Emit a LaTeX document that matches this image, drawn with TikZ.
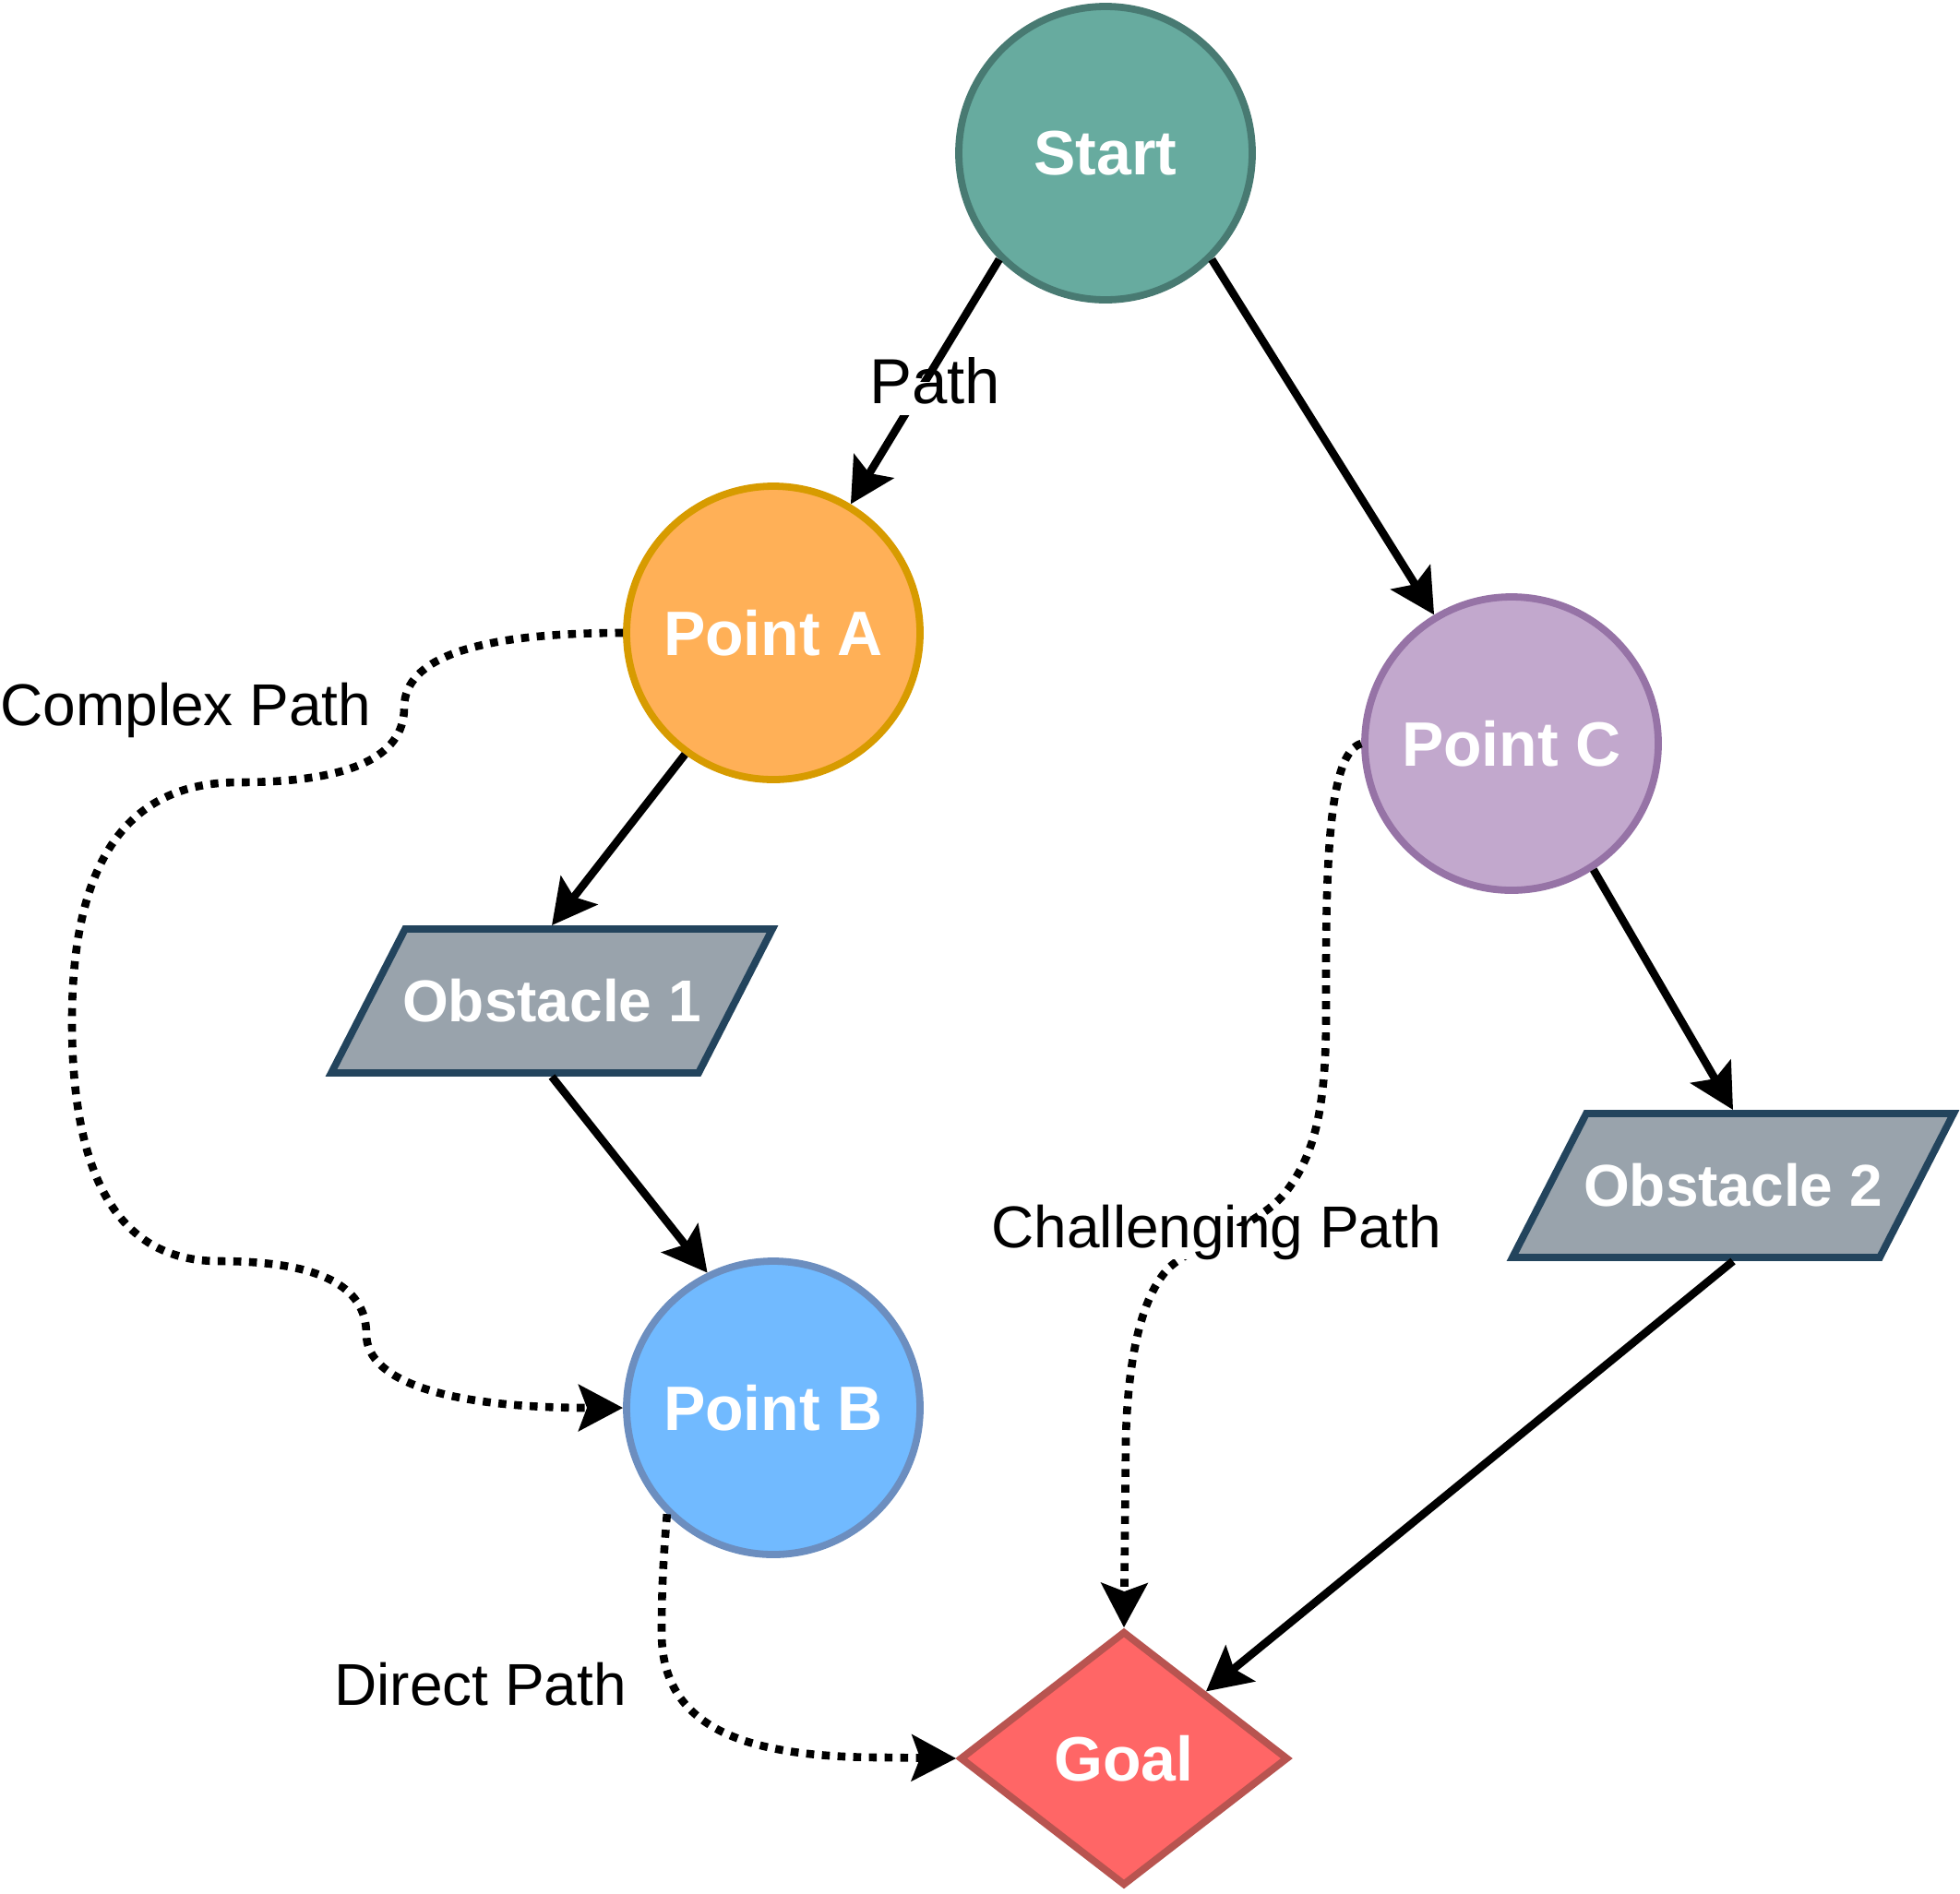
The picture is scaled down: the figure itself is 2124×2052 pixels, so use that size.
\documentclass[tikz,border=0pt]{standalone}
\usepackage{fontspec}
\setmainfont{Liberation Sans}
\usetikzlibrary{arrows.meta,shapes.geometric}

\definecolor{startfill}{HTML}{67AB9F}
\definecolor{startline}{HTML}{487A72}
\definecolor{afill}{HTML}{FFB057}
\definecolor{aline}{HTML}{D79B00}
\definecolor{bfill}{HTML}{71BAFF}
\definecolor{bline}{HTML}{6C8EBF}
\definecolor{cfill}{HTML}{C2A8CD}
\definecolor{cline}{HTML}{9673A6}
\definecolor{ofill}{HTML}{99A3AC}
\definecolor{oline}{HTML}{23445D}
\definecolor{gfill}{HTML}{FF6666}
\definecolor{gline}{HTML}{B85450}

\begin{document}
\begin{tikzpicture}[x=0.5pt,y=-0.5pt,
  ptnode/.style={circle, minimum size=159pt, inner sep=0pt, line width=3.9pt,
    font=\fontsize{34}{40}\selectfont\bfseries, text=white},
  obstshape/.style={line width=3.9pt, draw=oline, fill=ofill, line join=miter},
  obstbox/.style={rectangle, minimum width=245pt, minimum height=82pt, inner sep=0pt,
    outer sep=0pt, font=\fontsize{32}{38}\selectfont\bfseries, text=white},
  goalnode/.style={diamond, minimum width=178pt, minimum height=138pt, inner sep=0pt,
    line width=3.9pt, draw=gline, fill=gfill,
    font=\fontsize{34}{40}\selectfont\bfseries, text=white},
  edge/.style={line width=4.3pt, draw=black,
    -{Stealth[length=24pt,width=25pt,inset=4.5pt]}},
  dotedge/.style={edge, dash pattern=on 4.3pt off 4.2pt, line cap=butt},
  lbl/.style={font=\fontsize{32}{38}\selectfont, text=black, inner xsep=0pt,
    inner ysep=4pt, text height=0.75em, text depth=0.25em, anchor=base west}
]
\useasboundingbox (0,0) rectangle (2124,2052);

% obstacle parallelograms
\path[obstshape] (439,1007) -- (837,1007) -- (757,1163) -- (359,1163) -- cycle;
\path[obstshape] (1719,1207) -- (2117,1207) -- (2037,1363) -- (1639,1363) -- cycle;

% nodes
\node[ptnode, fill=startfill, draw=startline] (start) at (1198,166) {Start};
\node[ptnode, fill=afill, draw=aline] (pa) at (838,686) {Point A};
\node[ptnode, fill=bfill, draw=bline] (pb) at (838,1526) {Point B};
\node[ptnode, fill=cfill, draw=cline] (pc) at (1638,806) {Point C};
\node[obstbox] (o1) at (598,1085) {Obstacle 1};
\node[obstbox] (o2) at (1878,1285) {Obstacle 2};
\node[goalnode] (goal) at (1218,1906) {Goal};

% solid edges
\draw[edge] (start.225) -- (pa.59);
\draw[edge] (start.-45) -- (pc.121.5);
\draw[edge] (pa.234.5) -- (o1.north);
\draw[edge] (o1.south) -- (pb.116);
\draw[edge] (pc.-57.5) -- (o2.north);
\draw[edge] (o2.south) -- (goal);

% dotted edges
\draw[dotedge] (pa.west) .. controls (517,686) and (438,713) .. (438,767)
  .. controls (438,821) and (378,848) .. (258,848)
  .. controls (138,848) and (78,934) .. (78,1107)
  .. controls (78,1280) and (131,1367) .. (237,1367)
  .. controls (344,1367) and (397,1393) .. (397,1446)
  .. controls (397,1499) and (490,1526) .. (pb.west);

\draw[dotedge] (pc.west) .. controls (1445,815) and (1437,900) .. (1437,1050)
  -- (1437,1100)
  .. controls (1437,1200) and (1425,1250) .. (1395,1290)
  .. controls (1365,1330) and (1300,1345) .. (1268,1373)
  .. controls (1235,1405) and (1222,1480) .. (1220,1560)
  -- (goal.north);

\draw[dotedge] (pb.225) .. controls (718,1700) and (717,1730) .. (717,1770)
  .. controls (717,1880) and (820,1905) .. (960,1905)
  -- (goal.west);

% labels
\node[lbl, fill=white, font=\fontsize{34.5}{40}\selectfont] (lpath) at (942,437) {Path};
\node[lbl] (lcomplex) at (0,786) {Complex Path};
\node[lbl, fill=white] (lchall) at (1074,1352) {Challenging Path};
\node[lbl] (ldirect) at (362,1848) {Direct Path};
\end{tikzpicture}
\end{document}
